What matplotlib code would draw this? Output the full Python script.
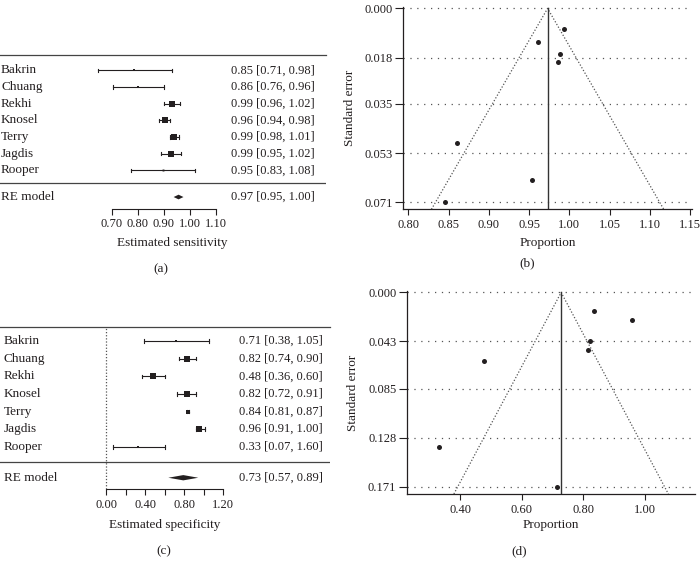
import numpy as np
import matplotlib
matplotlib.use("Agg")
import matplotlib.pyplot as plt
from matplotlib.patches import Polygon
import matplotlib.transforms as mtrans

plt.rcParams['font.family'] = ['Liberation Serif', 'DejaVu Serif']

# ---------------- data ----------------
studies = ["Bakrin", "Chuang", "Rekhi", "Knosel", "Terry", "Jagdis", "Rooper"]

# (a) sensitivity forest: printed values
sens_est = [0.85, 0.86, 0.99, 0.96, 0.99, 0.99, 0.95]
sens_lo = [0.71, 0.76, 0.96, 0.94, 0.98, 0.95, 0.83]
sens_hi = [0.98, 0.96, 1.02, 0.98, 1.01, 1.02, 1.08]
sens_re = [0.97, 0.95, 1.00]
# (a) plotted positions (as drawn on the axis)
sens_pt = [0.786, 0.802, 0.931, 0.905, 0.940, 0.927, 0.896]
sens_pt_lo = [0.646, 0.705, 0.899, 0.880, 0.925, 0.891, 0.774]
sens_pt_hi = [0.931, 0.900, 0.963, 0.925, 0.958, 0.968, 1.021]
sens_pt_re = [0.957, 0.938, 0.976]
sens_weight = [4, 5, 24, 22, 24, 22, 3]
sens_ticks = [0.70, 0.80, 0.90, 1.00, 1.10]

# (c) specificity forest: printed values
spec_est = [0.71, 0.82, 0.48, 0.82, 0.84, 0.96, 0.33]
spec_lo = [0.38, 0.74, 0.36, 0.72, 0.81, 0.91, 0.07]
spec_hi = [1.05, 0.90, 0.60, 0.91, 0.87, 1.00, 1.60]
spec_re = [0.73, 0.57, 0.89]
# (c) plotted positions
spec_pt = [0.716, 0.831, 0.484, 0.825, 0.835, 0.954, 0.329]
spec_pt_lo = [0.385, 0.743, 0.365, 0.723, 0.825, 0.917, 0.069]
spec_pt_hi = [1.050, 0.917, 0.606, 0.917, 0.845, 1.010, 0.606]
spec_pt_re = [0.790, 0.637, 0.943]
spec_weight = [3, 20, 20, 20, 16, 18, 3]
spec_ticks = [0.0, 0.2, 0.4, 0.6, 0.8, 1.0, 1.2]
spec_ticklabels = ["0.00", "", "0.40", "", "0.80", "", "1.20"]

# (b) funnel sensitivity
fb_prop = [0.994, 0.961, 0.988, 0.986, 0.860, 0.954, 0.846]
fb_se = [0.0077, 0.0122, 0.0166, 0.0198, 0.0492, 0.0630, 0.0709]
fb_center = 0.973
fb_yticks = [0.000, 0.018, 0.035, 0.053, 0.071]
fb_xticks = [0.80, 0.85, 0.90, 0.95, 1.00, 1.05, 1.10, 1.15]
fb_semax = 0.0736

# (d) funnel specificity
fd_prop = [0.835, 0.958, 0.822, 0.814, 0.478, 0.332, 0.714]
fd_se = [0.0161, 0.0242, 0.0424, 0.0511, 0.0608, 0.1365, 0.1710]
fd_center = 0.728
fd_yticks = [0.000, 0.043, 0.085, 0.128, 0.171]
fd_xticks = [0.40, 0.60, 0.80, 1.00]
fd_semax = 0.1775

# ---------------- layout ----------------
W, H = 700, 569
fig = plt.figure(figsize=(W / 100, H / 100), dpi=100)
INK = '#231f20'
FS_NUM = 9
FS_TXT = 9.5


def px_axes(x0, y0, x1, y1):
    return fig.add_axes([x0 / W, 1 - y1 / H, (x1 - x0) / W, (y1 - y0) / H])


def ftext(x, y, s, **kw):
    fig.text(x / W, 1 - y / H, s, ha='center', va='center', color=INK,
             fontsize=FS_TXT, **kw)


def forest(ax, pt, lo, hi, re, weights, est, elo, ehi, re_lab, ms_scale,
           name_x, lab_x, sep_y, re_y, dia_h):
    n = len(pt)
    rows = np.arange(n, 0, -1)
    tr = mtrans.blended_transform_factory(ax.transAxes, ax.transData)
    for i in range(n):
        ax.plot([lo[i], hi[i]], [rows[i], rows[i]], color=INK, lw=0.8)
        for e in (lo[i], hi[i]):
            ax.plot([e, e], [rows[i] - 0.1, rows[i] + 0.1], color=INK, lw=0.8)
        ms = ms_scale * np.sqrt(weights[i])
        ax.plot(pt[i], rows[i], marker='s', ms=ms, color=INK, mew=0)
        ax.text(name_x, rows[i], studies[i], transform=tr, ha='left',
                va='center', fontsize=FS_TXT, color=INK)
        ax.text(lab_x, rows[i], f"{est[i]:.2f} [{elo[i]:.2f}, {ehi[i]:.2f}]",
                transform=tr, ha='right', va='center', fontsize=FS_NUM,
                color=INK)
    ax.axhline(sep_y, color='#444444', lw=0.9)
    e, l, h = re
    ax.add_patch(Polygon([[l, re_y], [e, re_y + dia_h], [h, re_y],
                          [e, re_y - dia_h]], closed=True, color=INK, lw=0))
    ax.text(name_x, re_y, "RE model", transform=tr, ha='left', va='center',
            fontsize=FS_TXT, color=INK)
    ax.text(lab_x, re_y, f"{re_lab[0]:.2f} [{re_lab[1]:.2f}, {re_lab[2]:.2f}]",
            transform=tr, ha='right', va='center', fontsize=FS_NUM, color=INK)
    for s in ('left', 'right'):
        ax.spines[s].set_visible(False)
    ax.spines['top'].set_color('#444444')
    ax.spines['top'].set_linewidth(0.9)
    ax.spines['bottom'].set_color(INK)
    ax.spines['bottom'].set_linewidth(0.8)
    ax.set_yticks([])
    ax.tick_params(axis='x', direction='out', length=4, width=0.8, pad=3,
                   labelsize=FS_NUM, colors=INK)


# ---- (a)
axa = px_axes(0, 55.3, 326, 208.7)
axa.set_xlim(0.2676, 1.5263)
axa.set_ylim(-1.3, 7.9)
forest(axa, sens_pt, sens_pt_lo, sens_pt_hi, sens_pt_re, sens_weight,
       sens_est, sens_lo, sens_hi, sens_re, 0.8,
       1 / 326, 315 / 326, 0.22, -0.6, 0.14)
axa.set_xticks(sens_ticks)
axa.set_xticklabels([f"{t:.2f}" for t in sens_ticks])
axa.spines['bottom'].set_bounds(sens_ticks[0], sens_ticks[-1])
ftext(172, 243, "Estimated sensitivity")
ftext(161, 269, "(a)")

# ---- (c)
axc = px_axes(0, 326.7, 330, 489)
axc.set_xlim(-1.084, 2.290)
axc.set_ylim(-1.4, 7.82)
axc.axvline(0, color='#555555', lw=0.9, ls=(0, (1, 1.5)))
forest(axc, spec_pt, spec_pt_lo, spec_pt_hi, spec_pt_re, spec_weight,
       spec_est, spec_lo, spec_hi, spec_re, 0.85,
       4 / 330, 322.7 / 330, 0.15, -0.76, 0.15)
axc.set_xticks(spec_ticks)
axc.set_xticklabels(spec_ticklabels)
axc.spines['bottom'].set_bounds(spec_ticks[0], spec_ticks[-1])
ftext(165, 525, "Estimated specificity")
ftext(164, 551, "(c)")


# ---- funnels
def funnel(ax, prop, se, center, semax, xticks, yticks):
    ax.set_ylim(semax, -semax * 0.009)
    for yt in yticks:
        ax.axhline(yt, color='#555555', lw=0.9, ls=(0, (1, 4.5)), zorder=1)
    ax.plot([center - 1.96 * semax, center, center + 1.96 * semax],
            [semax, 0, semax], color='#555555', lw=0.9, ls=(0, (1, 1.5)),
            zorder=2)
    ax.plot([center, center], [0, semax], color='#333333', lw=1.0, zorder=2)
    ax.plot(prop, se, 'o', ms=3.6, color=INK, mew=0, zorder=3)
    ax.set_xticks(xticks)
    ax.set_xticklabels([f"{t:.2f}" for t in xticks])
    ax.set_yticks(yticks)
    ax.set_yticklabels([f"{t:.3f}" for t in yticks])
    for s in ('top', 'right'):
        ax.spines[s].set_visible(False)
    for s in ('left', 'bottom'):
        ax.spines[s].set_color(INK)
        ax.spines[s].set_linewidth(0.9)
    ax.tick_params(axis='x', direction='out', length=4, width=0.8, pad=3,
                   labelsize=FS_NUM, colors=INK)
    ax.tick_params(axis='y', direction='out', length=5.5, width=0.8, pad=2,
                   labelsize=FS_NUM, colors=INK)


axb = px_axes(403.3, 6.6, 691.7, 209.3)
axb.set_xlim(0.7938, 1.152)
funnel(axb, fb_prop, fb_se, fb_center, fb_semax, fb_xticks, fb_yticks)
ftext(547.5, 243, "Proportion")
ftext(350, 108, "Standard error", rotation=90)
ftext(527, 263, "(b)")

axd = px_axes(406.7, 290.6, 695, 494)
axd.set_xlim(0.2271, 1.1622)
funnel(axd, fd_prop, fd_se, fd_center, fd_semax, fd_xticks, fd_yticks)
ftext(551, 525, "Proportion")
ftext(353, 393, "Standard error", rotation=90)
ftext(519, 551, "(d)")

fig.savefig("out.png", dpi=100)
